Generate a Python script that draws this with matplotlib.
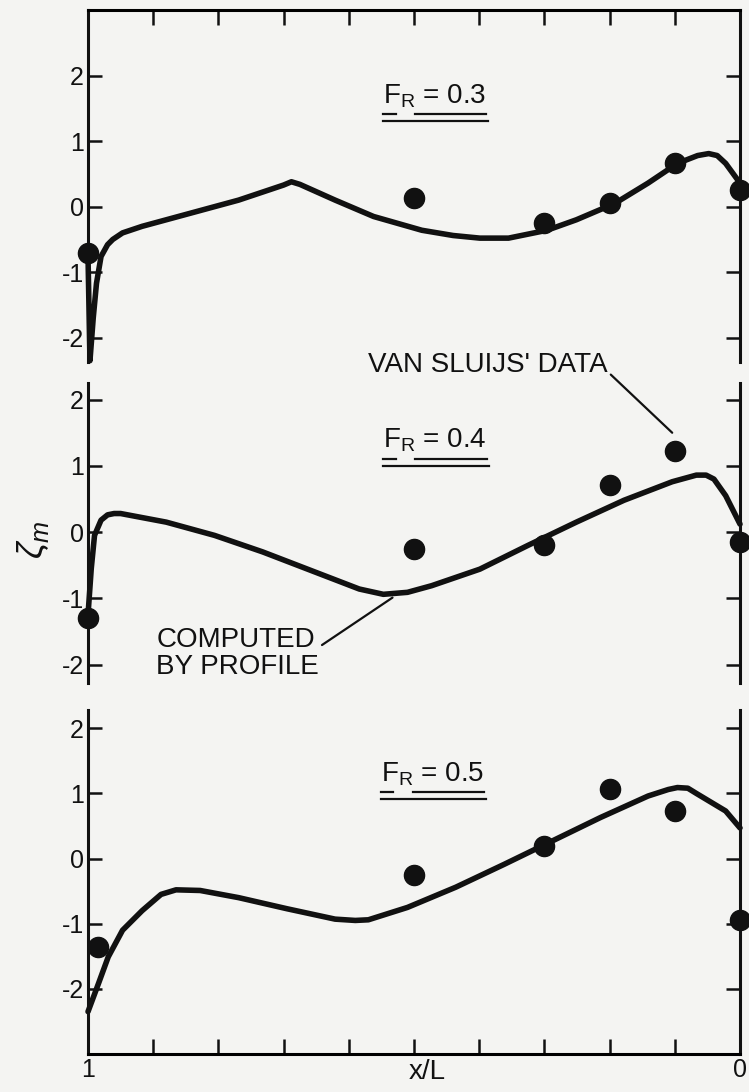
import numpy as np
import matplotlib
matplotlib.use('Agg')
import matplotlib.pyplot as plt
from matplotlib.lines import Line2D

plt.rcParams['font.family'] = ['Liberation Sans', 'DejaVu Sans']
plt.rcParams['mathtext.fontset'] = 'custom'
plt.rcParams['mathtext.rm'] = 'Liberation Sans'
plt.rcParams['mathtext.it'] = 'Liberation Sans:italic'
plt.rcParams['axes.unicode_minus'] = False

INK = '#111111'
PAPER = '#f4f4f2'

# van Sluijs' measured wave heights at the stations x/L
x_data = [1.0, 0.5, 0.3, 0.2, 0.1, 0.0]
x_data_05 = [0.985, 0.5, 0.3, 0.2, 0.1, 0.0]
zeta_data_03 = [-0.70, 0.13, -0.25, 0.05, 0.66, 0.25]
zeta_data_04 = [-1.30, -0.26, -0.20, 0.71, 1.23, -0.15]
zeta_data_05 = [-1.36, -0.26, 0.19, 1.06, 0.73, -0.95]

# wave profile computed by PROFILE
x_calc_03 = [1.0, 0.997, 0.992, 0.987, 0.980, 0.970, 0.962, 0.947, 0.917, 0.843, 0.769,
             0.700, 0.688, 0.675, 0.621, 0.562, 0.488, 0.440, 0.399, 0.355, 0.296, 0.251,
             0.192, 0.141, 0.096, 0.065, 0.048, 0.035, 0.022, 0.0]
zeta_calc_03 = [-0.75, -2.35, -1.70, -1.17, -0.76, -0.58, -0.50, -0.40, -0.30, -0.10, 0.10,
                0.33, 0.38, 0.34, 0.10, -0.15, -0.36, -0.44, -0.48, -0.48, -0.36, -0.20,
                0.05, 0.36, 0.66, 0.78, 0.81, 0.78, 0.66, 0.36]

x_calc_04 = [1.0, 0.995, 0.990, 0.980, 0.970, 0.960, 0.950, 0.880, 0.806, 0.732, 0.658,
             0.584, 0.547, 0.510, 0.473, 0.399, 0.325, 0.251, 0.178, 0.104, 0.067,
             0.052, 0.040, 0.022, 0.0]
zeta_calc_04 = [-1.25, -0.55, -0.05, 0.18, 0.26, 0.28, 0.28, 0.15, -0.05, -0.30, -0.58,
                -0.86, -0.94, -0.91, -0.81, -0.56, -0.20, 0.15, 0.48, 0.76, 0.86,
                0.86, 0.80, 0.55, 0.12]

x_calc_05 = [1.0, 0.984, 0.969, 0.947, 0.917, 0.888, 0.865, 0.828, 0.769, 0.695, 0.621,
             0.590, 0.570, 0.510, 0.436, 0.362, 0.288, 0.214, 0.141, 0.110, 0.096,
             0.080, 0.067, 0.022, 0.0]
zeta_calc_05 = [-2.35, -1.92, -1.51, -1.10, -0.80, -0.55, -0.48, -0.49, -0.60, -0.77, -0.93,
                -0.95, -0.94, -0.75, -0.44, -0.09, 0.27, 0.63, 0.96, 1.06, 1.09,
                1.08, 1.00, 0.73, 0.47]

froude = ['0.3', '0.4', '0.5']
y_ticks = [-2, -1, 0, 1, 2]
y_tick_labels = ['-2', '-1', '0', '1', '2']
x_ticks = [1.0, 0.9, 0.8, 0.7, 0.6, 0.5, 0.4, 0.3, 0.2, 0.1, 0.0]
x_tick_labels = ['1', '', '', '', '', '', '', '', '', '', '0']


def setup_panel(ax, ylim, top=False, bottom=False):
    ax.set_facecolor(PAPER)
    ax.set_xlim(1.0, 0.0)
    ax.set_ylim(*ylim)
    for side in ['left', 'right']:
        ax.spines[side].set_linewidth(2.2)
        ax.spines[side].set_color(INK)
    ax.spines['top'].set_visible(top)
    ax.spines['bottom'].set_visible(bottom)
    ax.spines['top'].set_linewidth(2.2)
    ax.spines['bottom'].set_linewidth(2.2)
    ax.set_yticks(y_ticks)
    ax.set_yticklabels(y_tick_labels)
    ax.tick_params(axis='y', which='both', direction='in', left=True, right=True,
                   length=10, width=1.8, labelsize=18, pad=3, colors=INK)
    ax.set_xticks(x_ticks)
    ax.tick_params(axis='x', direction='in', top=top, bottom=bottom, labeltop=False,
                   labelbottom=bottom, length=11, width=1.8, labelsize=18, pad=3,
                   colors=INK)
    if bottom:
        ax.set_xticklabels(x_tick_labels)


fig = plt.figure(figsize=(7.49, 10.92), dpi=100)
fig.patch.set_facecolor(PAPER)

left, width = 0.1175, 0.8705
ax1 = fig.add_axes([left, 0.6685, width, 0.3223])
ax2 = fig.add_axes([left, 0.3745, width, 0.2747])
ax3 = fig.add_axes([left, 0.0348, width, 0.3150])

setup_panel(ax1, (-2.37, 3.0), top=True)
setup_panel(ax2, (-2.28, 2.25))
setup_panel(ax3, (-3.0, 2.28), bottom=True)

panels = [
    (ax1, x_calc_03, zeta_calc_03, x_data, zeta_data_03, 1.58, 0.547),
    (ax2, x_calc_04, zeta_calc_04, x_data, zeta_data_04, 1.27, 0.547),
    (ax3, x_calc_05, zeta_calc_05, x_data_05, zeta_data_05, 1.19, 0.551),
]

labels = []
for (ax, xc, zc, xd, zd, ylab, xlab), fr in zip(panels, froude):
    ax.plot(xc, zc, color=INK, lw=4.0, solid_joinstyle='round',
            solid_capstyle='round', clip_on=False, zorder=3)
    ax.plot(xd, zd, 'o', color=INK, ms=14.5, clip_on=False, zorder=4)
    t = ax.text(xlab, ylab, r'$\mathregular{F_R}$ = ' + fr, ha='left', va='baseline',
                fontsize=20, color=INK)
    labels.append(t)

ax3.set_xlabel('x/L', fontsize=20, color=INK)
ax3.xaxis.set_label_coords(0.52, -0.015)
ax3.xaxis.label.set_va('top')

ax2.annotate("VAN SLUIJS' DATA", xy=(x_data[4] + 0.004, zeta_data_04[4] + 0.27),
             xytext=(0.570, 2.41), ha='left', va='baseline', fontsize=20, color=INK,
             annotation_clip=False,
             arrowprops=dict(arrowstyle='-', color=INK, lw=1.6, shrinkA=0, shrinkB=0,
                             relpos=(1.0, 0.25)))

ax2.annotate('COMPUTED\nBY PROFILE', xy=(0.533, -0.99), xytext=(0.895, -1.83),
             ha='left', va='center', fontsize=20, color=INK, linespacing=1.05,
             arrowprops=dict(arrowstyle='-', color=INK, lw=1.6, shrinkA=0, shrinkB=0,
                             relpos=(1.0, 0.62)))

fig.text(0.044, 0.5055, r'$\zeta_m$', rotation=90, ha='center', va='center',
         fontsize=26, color=INK)

# double underline below each Froude label
fig.canvas.draw()
renderer = fig.canvas.get_renderer()
to_fig = fig.transFigure.inverted()
for t in labels:
    bb = t.get_window_extent(renderer)
    w = bb.x1 - bb.x0
    yb = t.axes.transData.transform((0, t.get_position()[1]))[1]
    for a, b, dy in [(0.0, 0.12, 11), (0.31, 1.0, 11), (0.0, 1.02, 18)]:
        p0 = to_fig.transform((bb.x0 + a * w, yb - dy))
        p1 = to_fig.transform((bb.x0 + b * w, yb - dy))
        fig.add_artist(Line2D([p0[0], p1[0]], [p0[1], p1[1]], color=INK, lw=1.6))

fig.savefig('out.png', dpi=100, facecolor=PAPER)
